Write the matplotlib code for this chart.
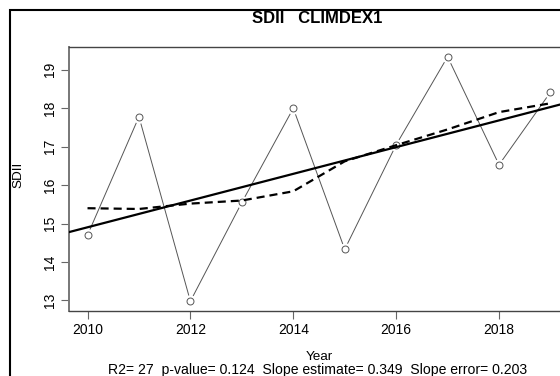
import numpy as np
import matplotlib
matplotlib.use('Agg')
import matplotlib.pyplot as plt
from matplotlib.patches import Rectangle

plt.rcParams['font.family'] = ['Liberation Sans', 'DejaVu Sans']
plt.rcParams['lines.scale_dashes'] = False

# Annual SDII values and their smoothed trend
years = [2010, 2011, 2012, 2013, 2014, 2015, 2016, 2017, 2018, 2019]
sdii = [14.70, 17.78, 12.98, 15.55, 18.00, 14.33, 17.05, 19.34, 16.53, 18.42]
smooth = [15.40, 15.38, 15.52, 15.60, 15.84, 16.62, 17.04, 17.45, 17.90, 18.13]
xticks = [2010, 2012, 2014, 2016, 2018]
yticks = [13, 14, 15, 16, 17, 18, 19]
stats_line = 'R2= 27  p-value= 0.124  Slope estimate= 0.349  Slope error= 0.203'

W, H = 560, 376
fig = plt.figure(figsize=(W / 100, H / 100), dpi=100)

# plot region runs past the right edge of the figure
ax = fig.add_axes([69 / W, 1 - 311 / H, 500 / W, 264 / H])

x = np.array(years, dtype=float)
y = np.array(sdii)
pad_x = 0.04 * (x.max() - x.min())
pad_y = 0.04 * (y.max() - y.min())
ax.set_xlim(x.min() - pad_x, x.max() + pad_x)
ax.set_ylim(y.min() - pad_y, y.max() + pad_y)

# type="b" style: line broken around open circles
ax.plot(x, y, color='#555555', lw=0.7, zorder=2)
ax.plot(x, y, 'o', ms=9, mfc='white', mec='none', zorder=3)
ax.plot(x, y, 'o', ms=5, mfc='white', mec='#555555', mew=0.7, zorder=4)

# least squares trend
m, b = np.polyfit(x, y, 1)
ax.axline((x[0], m * x[0] + b), slope=m, color='black', lw=1.6, zorder=5)

# smoothed curve
ax.plot(x, smooth, color='black', lw=1.6, dashes=(5.8, 3.6), zorder=5)

ax.set_xticks(xticks)
ax.set_yticks(yticks)
ax.tick_params(axis='both', direction='out', length=5.5, width=0.8,
               color='#666666', labelsize=10, pad=3)
for lab in ax.get_yticklabels():
    lab.set_rotation(90)
    lab.set_va('center')
for side in ['left', 'bottom', 'top', 'right']:
    ax.spines[side].set_color('#444444')
    ax.spines[side].set_linewidth(1.0)
ax.spines['left'].set_color('#777777')
ax.spines['left'].set_linewidth(1.4)

fig.text(18 / W, 1 - 175 / H, 'SDII', rotation=90, ha='center', va='center',
         fontsize=9.7)
fig.text(317 / W, 1 - 18.5 / H, 'SDII   CLIMDEX1', ha='center', va='center',
         fontsize=12, fontweight='bold')
fig.text(319 / W, 1 - 357 / H, 'Year', ha='center', va='center', fontsize=9.7)
fig.text(317.5 / W, 1 - 370 / H, stats_line, ha='center', va='center', fontsize=10.1)

# outer frame around the device region
fig.patches.append(Rectangle((10 / W, -0.1), 2, 1.1 - 9.5 / H,
                             transform=fig.transFigure, fill=False,
                             ec='black', lw=1.5))

fig.savefig('out.png', dpi=100)
